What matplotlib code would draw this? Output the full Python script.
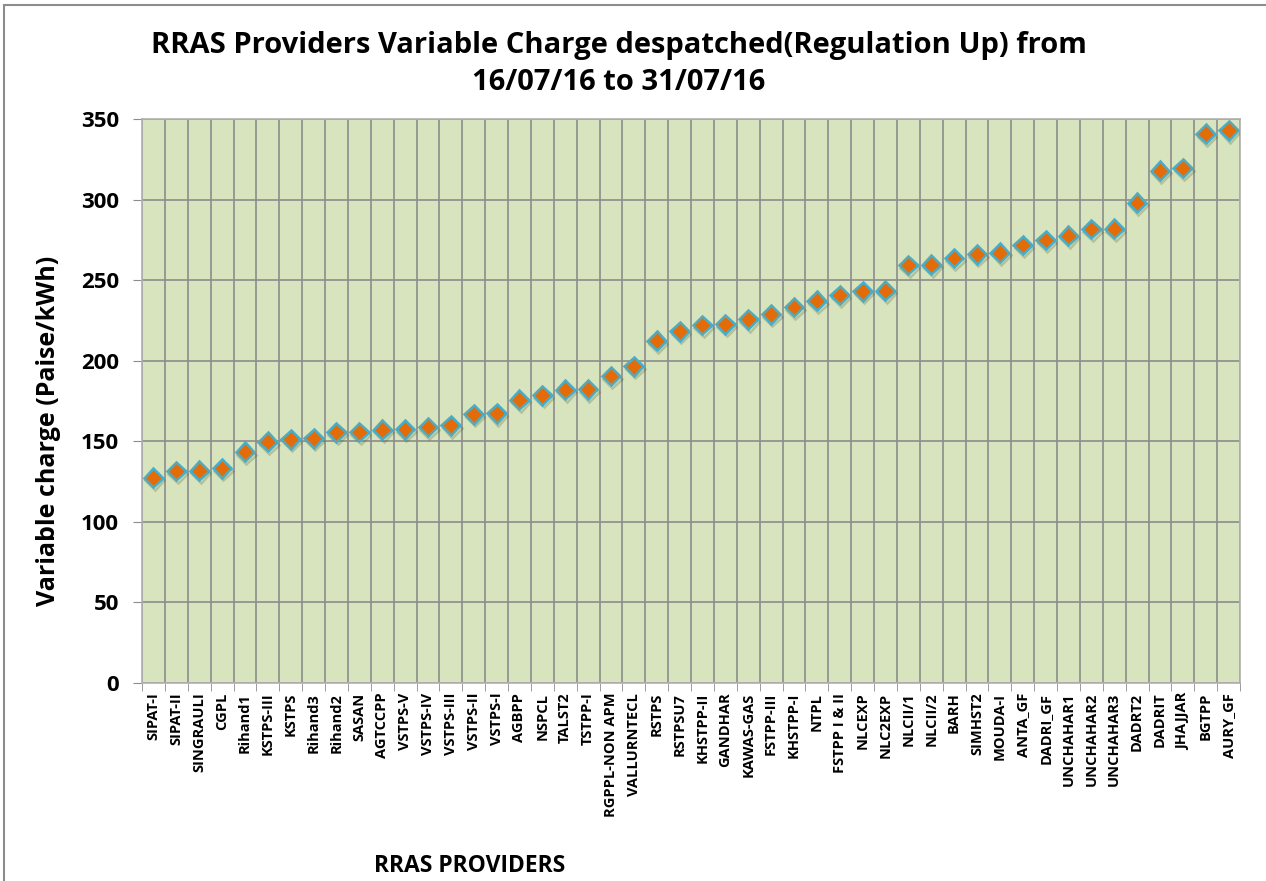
import matplotlib
matplotlib.use('Agg')
import matplotlib.pyplot as plt
import matplotlib.patheffects as pe
from matplotlib.patches import Rectangle

providers = ['SIPAT-I', 'SIPAT-II', 'SINGRAULI', 'CGPL', 'Rihand1', 'KSTPS-III', 'KSTPS',
             'Rihand3', 'Rihand2', 'SASAN', 'AGTCCPP', 'VSTPS-V', 'VSTPS-IV', 'VSTPS-III',
             'VSTPS-II', 'VSTPS-I', 'AGBPP', 'NSPCL', 'TALST2', 'TSTPP-I', 'RGPPL-NON APM',
             'VALLURNTECL', 'RSTPS', 'RSTPSU7', 'KHSTPP-II', 'GANDHAR', 'KAWAS-GAS',
             'FSTPP-III', 'KHSTPP-I', 'NTPL', 'FSTPP I & II', 'NLCEXP', 'NLC2EXP', 'NLCII/1',
             'NLCII/2', 'BARH', 'SIMHST2', 'MOUDA-I', 'ANTA_GF', 'DADRI_GF', 'UNCHAHAR1',
             'UNCHAHAR2', 'UNCHAHAR3', 'DADRT2', 'DADRIT', 'JHAJJAR', 'BGTPP', 'AURY_GF']

variable_charge = [127.5, 131.5, 131.8, 133.2, 143.5, 149.7, 151.3, 151.8, 155.6, 155.7,
                   157.3, 157.4, 158.8, 159.8, 166.8, 167.3, 175.8, 178.5, 182.0, 182.2,
                   190.6, 196.6, 212.4, 218.3, 222.2, 222.6, 225.6, 228.8, 233.4, 237.2,
                   240.8, 243.1, 243.5, 259.4, 259.6, 263.8, 266.0, 267.1, 271.8, 274.9,
                   277.6, 281.8, 281.9, 298.1, 318.0, 319.5, 340.8, 342.9]

yticks = [0, 50, 100, 150, 200, 250, 300, 350]

plt.rcParams['font.family'] = ['Open Sans', 'DejaVu Sans']

fig = plt.figure(figsize=(12.66, 8.81), dpi=100)
fig.patches.append(Rectangle((4 / 1266, -0.1), 1.2, 1.1 - 5 / 881, transform=fig.transFigure,
                             fill=False, edgecolor='#8c8c8c', linewidth=1.5))

ax = fig.add_axes([142 / 1266, 1 - 683 / 881, 1098 / 1266, 564 / 881])
ax.set_facecolor('#D7E4BD')

x = list(range(len(providers)))
ax.plot(x, variable_charge, linestyle='none', marker='D', markersize=9.5,
        markerfacecolor='#E36C09', markeredgecolor='#4BACC6', markeredgewidth=1.8,
        path_effects=[pe.SimpleLineShadow(offset=(1, -2), shadow_color='#4a5a30', alpha=0.25),
                      pe.Normal()], zorder=3)

ax.set_xlim(-0.5, len(providers) - 0.5)
ax.set_ylim(0, 350)
ax.set_yticks(yticks)
ax.set_yticklabels([str(v) for v in yticks], fontsize=16, fontweight='bold')
ax.set_xticks(x)
ax.set_xticklabels(providers, rotation=90, fontsize=10.5, fontweight='bold')
ax.set_xticks([i - 0.5 for i in range(len(providers) + 1)], minor=True)
ax.tick_params(axis='x', which='major', length=0, pad=7)
ax.tick_params(axis='x', which='minor', length=6, color='#8c8c8c')
ax.tick_params(axis='y', length=6.5, color='#8c8c8c', pad=10)

ax.grid(True, axis='y', which='major', color='#8c8c8c', linewidth=1.2)
ax.grid(True, axis='x', which='minor', color='#8c8c8c', linewidth=1.2)
ax.set_axisbelow(True)
for s in ax.spines.values():
    s.set_color('#b0b0b0')
    s.set_linewidth(1.2)

ax.set_ylabel('Variable charge (Paise/kWh)', fontsize=18, fontweight='bold')
ax.yaxis.set_label_coords(-0.074, 0.447)

fig.text(619 / 1266, 1 - 64 / 881,
         'RRAS Providers Variable Charge despatched(Regulation Up) from\n16/07/16 to 31/07/16',
         ha='center', va='center', fontsize=21, fontweight='bold', linespacing=1.35)
fig.text(470 / 1266, 1 - 866 / 881, 'RRAS PROVIDERS', ha='center', va='center',
         fontsize=16.5, fontweight='bold')

fig.savefig('out.png', dpi=100)
